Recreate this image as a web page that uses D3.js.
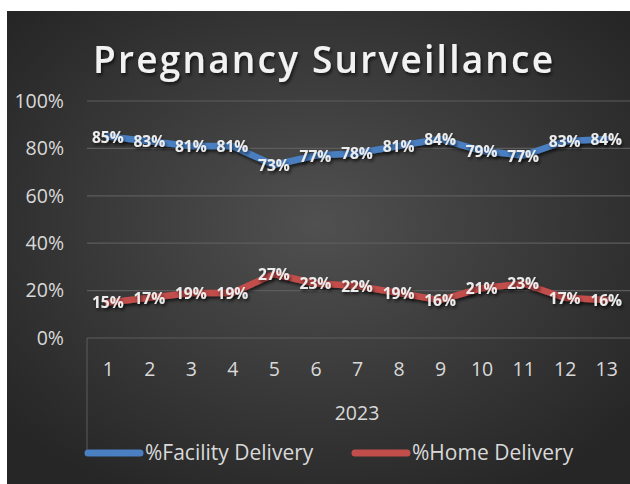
<!DOCTYPE html>
<html>
<head>
<meta charset="utf-8">
<script src="https://cdn.jsdelivr.net/npm/d3@7"></script>
<style>
  body { margin: 0; background: #fff; }
  svg { display: block; font-family: "Open Sans", sans-serif; }
</style>
</head>
<body>
<svg id="chart" width="630" height="484"></svg>
<script>
const months = ["1", "2", "3", "4", "5", "6", "7", "8", "9", "10", "11", "12", "13"];
const facility = [0.85, 0.83, 0.81, 0.81, 0.73, 0.77, 0.78, 0.81, 0.84, 0.79, 0.77, 0.83, 0.84];
const home = [0.15, 0.17, 0.19, 0.19, 0.27, 0.23, 0.22, 0.19, 0.16, 0.21, 0.23, 0.17, 0.16];
const yTicks = [0, 0.2, 0.4, 0.6, 0.8, 1];
const yearLabel = "2023";
const seriesNames = ["%Facility Delivery", "%Home Delivery"];
const COLORS = ["#4a7fc1", "#c24e4b"];

const SVG = d3.select("#chart");
const MARGIN = { top: 101, left: 87, right: 3, bottom: 146 };
const WIDTH = 630, HEIGHT = 484;
const INNERW = WIDTH - MARGIN.left - MARGIN.right;
const INNERH = HEIGHT - MARGIN.top - MARGIN.bottom;

// background + shadows
const defs = SVG.append("defs");
const grad = defs.append("radialGradient")
  .attr("id", "bg").attr("cx", "50%").attr("cy", "45%").attr("r", "65%");
grad.append("stop").attr("offset", "0%").attr("stop-color", "#505050");
grad.append("stop").attr("offset", "100%").attr("stop-color", "#262626");

defs.append("filter").attr("id", "shadow")
  .attr("x", "-10%").attr("y", "-30%").attr("width", "120%").attr("height", "160%")
  .append("feDropShadow")
  .attr("dx", 1.5).attr("dy", 2.5).attr("stdDeviation", 1.5)
  .attr("flood-color", "#000").attr("flood-opacity", 0.6);

SVG.append("rect")
  .attr("x", 7).attr("y", 11)
  .attr("width", WIDTH - 7).attr("height", HEIGHT - 11)
  .attr("fill", "url(#bg)");

// title
SVG.append("text")
  .attr("x", 323).attr("y", 73)
  .attr("text-anchor", "middle")
  .attr("textLength", 460).attr("lengthAdjust", "spacing")
  .attr("font-size", 37).attr("font-weight", 600)
  .attr("fill", "#f2f2f2")
  .attr("filter", "url(#shadow)")
  .text("Pregnancy Surveillance");

const g = SVG.append("g")
  .attr("transform", "translate(" + MARGIN.left + "," + MARGIN.top + ")");

const xScale = d3.scalePoint().domain(months).range([0, INNERW]).padding(0.5);
const yScale = d3.scaleLinear().domain([0, 1]).range([INNERH, 0]);

// gridlines
g.selectAll(".grid")
  .data(yTicks)
  .join("line")
  .attr("class", "grid")
  .attr("x1", 0).attr("x2", INNERW + MARGIN.right)
  .attr("y1", (d) => yScale(d)).attr("y2", (d) => yScale(d))
  .attr("stroke", "#5c5c5c").attr("stroke-width", 1.2);

// y axis labels
const yAxis = g.append("g")
  .call(d3.axisLeft(yScale).tickValues(yTicks).tickFormat(d3.format(".0%")).tickSize(0).tickPadding(23));
yAxis.select(".domain").remove();
yAxis.selectAll("text")
  .attr("font-size", 19.5).attr("fill", "#d9d9d9")
  .attr("font-family", "'Open Sans', sans-serif");

// x axis (category labels)
const xAxis = g.append("g")
  .attr("transform", "translate(0," + INNERH + ")")
  .call(d3.axisBottom(xScale).tickSize(0).tickPadding(24));
xAxis.select(".domain").remove();
xAxis.selectAll("text")
  .attr("font-size", 19.5).attr("fill", "#d9d9d9")
  .attr("font-family", "'Open Sans', sans-serif");

// multi-level axis separator at left
g.append("line")
  .attr("x1", 0).attr("x2", 0)
  .attr("y1", INNERH).attr("y2", INNERH + 112)
  .attr("stroke", "#5c5c5c").attr("stroke-width", 1);

g.append("text")
  .attr("x", INNERW / 2 + 0).attr("y", INNERH + 82)
  .attr("text-anchor", "middle")
  .attr("font-size", 19.5).attr("fill", "#d9d9d9")
  .text(yearLabel);

// lines
const line = d3.line()
  .x((d, i) => xScale(months[i]))
  .y((d) => yScale(d));

[facility, home].forEach((series, k) => {
  g.append("path")
    .datum(series)
    .attr("d", line)
    .attr("fill", "none")
    .attr("stroke", COLORS[k])
    .attr("stroke-width", 6.5)
    .attr("stroke-linejoin", "round")
    .attr("stroke-linecap", "round")
    .attr("filter", "url(#shadow)");
});

[facility, home].forEach((series) => {
  g.append("g")
    .selectAll("text")
    .data(series)
    .join("text")
    .attr("x", (d, i) => xScale(months[i]))
    .attr("y", (d) => yScale(d) + 6)
    .attr("text-anchor", "middle")
    .attr("font-size", 15.5).attr("font-weight", "bold")
    .attr("fill", "#ececec")
    .attr("filter", "url(#shadow)")
    .text((d) => d3.format(".0%")(d));
});

// legend
const legendX = [85, 352];
const legend = SVG.append("g");
seriesNames.forEach((name, k) => {
  legend.append("line")
    .attr("x1", legendX[k] + 3).attr("x2", legendX[k] + 55)
    .attr("y1", 453).attr("y2", 453)
    .attr("stroke", COLORS[k]).attr("stroke-width", 7)
    .attr("stroke-linecap", "round");
  legend.append("text")
    .attr("x", legendX[k] + 60).attr("y", 460)
    .attr("font-size", 21).attr("fill", "#d9d9d9")
    .text(name);
});
</script>
</body>
</html>
